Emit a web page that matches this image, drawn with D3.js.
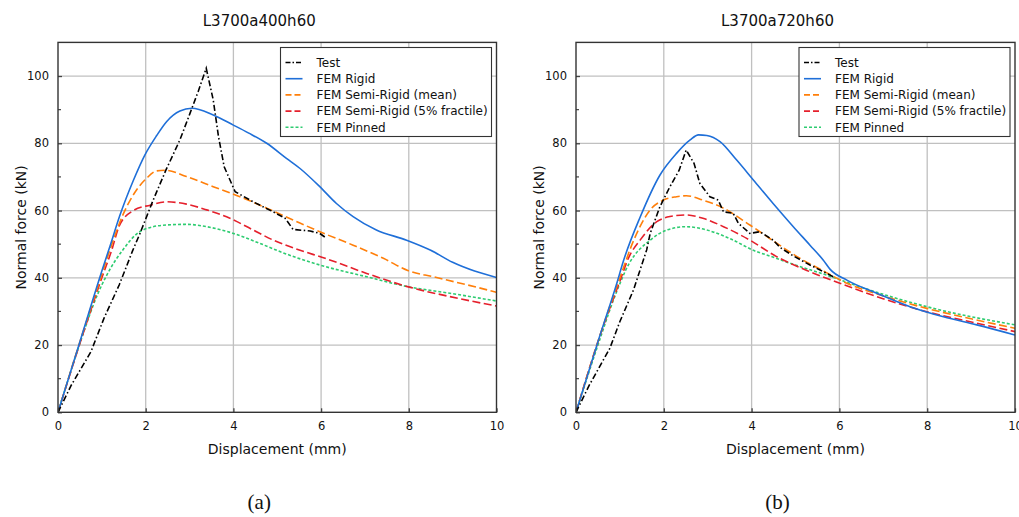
<!DOCTYPE html>
<html>
<head>
<meta charset="utf-8">
<script src="https://cdn.jsdelivr.net/npm/d3@7"></script>
<style>
  body { margin: 0; background: #fff; }
  svg { display: block; font-family: "DejaVu Sans", sans-serif; }
</style>
</head>
<body>
<div id="chart"></div>
<script>
const SERIES_NAMES = ["Test", "FEM Rigid", "FEM Semi-Rigid (mean)", "FEM Semi-Rigid (5% fractile)", "FEM Pinned"];
const X_TICKS = [0, 2, 4, 6, 8, 10];
const Y_TICKS = [0, 20, 40, 60, 80, 100];
const Y_MINOR = [10, 30, 50, 70, 90];

// panel (a) L3700a400h60
const testA_d = [0, 0.3, 0.75, 1.05, 1.4, 1.7, 1.87, 2.17, 2.46, 2.78, 3.01, 3.2, 3.38, 3.54, 3.66, 3.79, 4.04, 4.45, 4.91, 5.18, 5.36, 5.75, 5.97, 6.13];
const testA_f = [0, 8, 18, 28, 38, 48, 53.2, 63.1, 72, 81, 88.9, 95.5, 102.3, 92.9, 82, 73, 65.6, 62.6, 59.6, 57.7, 54.4, 53.9, 53.2, 51.7];
const rigidA_d = [0, 0.5, 1.0, 1.2, 1.41, 1.72, 1.98, 2.25, 2.48, 2.78, 3.05, 3.54, 4.0, 4.34, 4.76, 5.21, 5.52, 5.97, 6.35, 6.73, 7.26, 7.95, 8.5, 9.0, 9.5, 10];
const rigidA_f = [0, 21, 42, 50, 58.5, 69, 76.5, 82.3, 86.5, 89.6, 90.4, 88.4, 85.4, 83.1, 80, 75.5, 72.5, 67.1, 62.1, 58.2, 54.2, 51.2, 48.2, 44.6, 42, 40.1];
const meanA_d = [0, 0.5, 1.0, 1.19, 1.49, 1.79, 2.02, 2.25, 2.44, 2.93, 3.54, 4.15, 4.76, 5.36, 5.97, 6.73, 7.42, 7.99, 8.56, 9.33, 10];
const meanA_f = [0, 21, 41, 48.5, 59, 66.1, 69.6, 71.8, 72, 70.1, 67.1, 64.1, 60.7, 57.2, 53.7, 49.7, 45.8, 42.1, 40.3, 37.9, 35.7];
const fracA_d = [0, 0.5, 1.0, 1.22, 1.4, 1.72, 2.1, 2.48, 2.93, 3.39, 3.92, 4.45, 4.91, 5.52, 6.09, 7.04, 7.99, 8.94, 10];
const fracA_f = [0, 20.5, 40, 48, 55.5, 60, 61.6, 62.6, 61.9, 60.2, 57.7, 54.2, 51.2, 48.2, 45.8, 41.3, 37.3, 34.4, 31.6];
const pinA_d = [0, 0.5, 0.9, 1.1, 1.3, 1.49, 1.79, 2.17, 2.48, 2.93, 3.39, 4.0, 4.61, 5.06, 5.97, 7.04, 8.0, 8.94, 10];
const pinA_f = [0, 20.5, 35, 40.5, 45, 48.5, 53, 55.2, 55.7, 55.9, 55.2, 53.2, 50.2, 47.8, 43.8, 40.3, 37.3, 35.4, 33.1];

// panel (b) L3700a720h60
const testB_d = [0, 0.3, 0.77, 1.0, 1.31, 1.61, 1.69, 1.91, 2.14, 2.35, 2.51, 2.69, 2.82, 3.05, 3.24, 3.36, 3.58, 3.7, 3.96, 4.19, 4.49, 4.65, 4.95, 5.33, 5.79, 5.9];
const testB_f = [0, 8, 19, 27, 36.4, 48.3, 53.2, 61.1, 67.1, 72, 78, 74, 68.1, 64.1, 63.1, 59.6, 59.2, 56.2, 53.2, 53.7, 51.2, 49, 46.5, 43.8, 40.8, 40];
const rigidB_d = [0, 0.5, 0.93, 1.08, 1.46, 1.91, 2.29, 2.6, 2.79, 2.98, 3.28, 3.66, 4.04, 4.49, 4.95, 5.33, 5.63, 5.79, 6.17, 6.85, 7.61, 8.37, 9.13, 10];
const rigidB_f = [0, 21, 38.4, 45, 58, 70.5, 77, 81, 82.5, 82.3, 80.5, 75, 69.1, 62.1, 55.2, 49.7, 45.3, 42.5, 39.3, 35.4, 31.4, 28.4, 26, 23];
const meanB_d = [0, 0.5, 1.0, 1.31, 1.69, 1.99, 2.29, 2.51, 2.89, 3.36, 3.96, 4.57, 5.1, 5.5, 6.17, 7.0, 7.99, 9.0, 10];
const meanB_f = [0, 21, 40, 51, 60.2, 63.1, 64.1, 64.4, 63.1, 60.7, 55.7, 50.3, 45.8, 43, 38.4, 34.6, 30.9, 27.8, 25];
const fracB_d = [0, 0.5, 1.0, 1.2, 1.46, 1.84, 2.14, 2.51, 2.89, 3.36, 3.96, 4.57, 5.33, 6.01, 6.85, 7.99, 9.13, 10];
const fracB_f = [0, 21, 39, 46, 51.2, 56.7, 58.2, 58.7, 57.7, 55.2, 51.2, 46.3, 41.8, 38.4, 34.4, 29.9, 26.5, 24];
const pinB_d = [0, 0.5, 0.9, 1.2, 1.69, 2.07, 2.51, 2.98, 3.5, 4.11, 4.34, 4.95, 5.71, 6.47, 7.99, 10];
const pinB_f = [0, 20, 35, 44, 51.2, 54.2, 55.2, 54.2, 51.7, 47.8, 46.8, 44, 40.8, 37.3, 31.4, 26];

const STYLES = [
  { color: "#000000", dash: "6,2.5,1.5,2.5", curve: d3.curveLinear },
  { color: "#1f6fd8", dash: null, curve: d3.curveMonotoneX },
  { color: "#ff7f0a", dash: "8,3.5", curve: d3.curveMonotoneX },
  { color: "#e5202c", dash: "8,3.5", curve: d3.curveMonotoneX },
  { color: "#2ecc71", dash: "3,2", curve: d3.curveMonotoneX },
];

const zip = (xs, ys) => xs.map((d, i) => ({ d, f: ys[i] }));

const panels = [
  {
    title: "L3700a400h60", caption: "(a)", key: "a", left: 58, right: 496.5,
    series: [zip(testA_d, testA_f), zip(rigidA_d, rigidA_f), zip(meanA_d, meanA_f), zip(fracA_d, fracA_f), zip(pinA_d, pinA_f)],
  },
  {
    title: "L3700a720h60", caption: "(b)", key: "b", left: 576, right: 1015,
    series: [zip(testB_d, testB_f), zip(rigidB_d, rigidB_f), zip(meanB_d, meanB_f), zip(fracB_d, fracB_f), zip(pinB_d, pinB_f)],
  },
];

const width = 1019;
const height = 517;
const plotTop = 42.4;
const plotBottom = 412.3;

const svg = d3.select("#chart").append("svg").attr("width", width).attr("height", height);

function drawPanel(p) {
  const x = d3.scaleLinear().domain([0, 10]).range([p.left, p.right]);
  const y = d3.scaleLinear().domain([0, 110]).range([plotBottom, plotTop]);
  const g = svg.append("g");
  const cx = (p.left + p.right) / 2;

  g.append("defs").append("clipPath").attr("id", "clip" + p.key)
    .append("rect").attr("x", p.left).attr("y", plotTop).attr("width", p.right - p.left).attr("height", plotBottom - plotTop);

  // grid
  const grid = g.append("g").attr("stroke", "#c0c0c0").attr("stroke-width", 1.3);
  grid.selectAll("line.v").data(X_TICKS.slice(1, -1)).join("line").attr("class", "v")
    .attr("x1", x).attr("x2", x).attr("y1", plotTop).attr("y2", plotBottom);
  grid.selectAll("line.h").data(Y_TICKS.slice(1)).join("line").attr("class", "h")
    .attr("x1", p.left).attr("x2", p.right).attr("y1", y).attr("y2", y);

  // curves
  const line = d3.line().x((d) => x(d.d)).y((d) => y(d.f));
  g.append("g").attr("clip-path", `url(#clip${p.key})`)
    .selectAll("path").data(p.series.map((s, i) => ({ s, i })).reverse()).join("path")
    .attr("fill", "none")
    .attr("stroke", (d) => STYLES[d.i].color)
    .attr("stroke-width", 1.6)
    .attr("stroke-dasharray", (d) => STYLES[d.i].dash)
    .attr("d", (d) => line.curve(STYLES[d.i].curve)(d.s));

  // axes (inward ticks)
  const yAxis = d3.axisLeft(y).tickValues(Y_TICKS).tickSize(-4).tickPadding(9).tickFormat(d3.format("d"));
  const xAxis = d3.axisBottom(x).tickValues(X_TICKS).tickSize(-4).tickPadding(10).tickFormat(d3.format("d"));
  const ya = g.append("g").attr("transform", `translate(${p.left},0)`).call(yAxis);
  const xa = g.append("g").attr("transform", `translate(0,${plotBottom})`).call(xAxis);
  for (const a of [ya, xa]) {
    a.select(".domain").remove();
    a.selectAll("line").attr("stroke", "#444").attr("stroke-width", 1.3);
    a.selectAll("text").attr("font-size", 11.5).attr("fill", "#111").attr("font-family", "DejaVu Sans");
  }
  g.append("g").selectAll("line").data(Y_MINOR).join("line")
    .attr("x1", p.left).attr("x2", p.left + 3).attr("y1", y).attr("y2", y)
    .attr("stroke", "#444").attr("stroke-width", 1.2);

  // frame
  g.append("rect").attr("x", p.left).attr("y", plotTop).attr("width", p.right - p.left).attr("height", plotBottom - plotTop)
    .attr("fill", "none").attr("stroke", "#333").attr("stroke-width", 1.4);

  // texts
  g.append("text").attr("x", cx - 18).attr("y", 26).attr("text-anchor", "middle")
    .attr("font-size", 15).attr("fill", "#111").text(p.title);
  g.append("text").attr("x", cx).attr("y", 454).attr("text-anchor", "middle")
    .attr("font-size", 14).attr("fill", "#111").text("Displacement (mm)");
  g.append("text").attr("transform", `translate(${p.left - 32},${(plotTop + plotBottom) / 2}) rotate(-90)`)
    .attr("text-anchor", "middle").attr("font-size", 14).attr("fill", "#111").text("Normal force (kN)");
  g.append("text").attr("x", cx - 18).attr("y", 509).attr("text-anchor", "middle")
    .attr("font-family", "Liberation Serif, serif").attr("font-size", 21).attr("fill", "#111").text(p.caption);

  // legend
  const lx = p.right - 216;
  const legend = g.append("g").attr("transform", `translate(${lx},47.5)`);
  legend.append("rect").attr("width", 211).attr("height", 89)
    .attr("fill", "#fff").attr("stroke", "#333").attr("stroke-width", 1.1);
  const rows = legend.selectAll("g.row").data(SERIES_NAMES).join("g").attr("class", "row")
    .attr("transform", (d, i) => `translate(0,${15 + i * 16.2})`);
  rows.append("line").attr("x1", 5).attr("x2", 22)
    .attr("stroke", (d, i) => STYLES[i].color).attr("stroke-width", 1.6)
    .attr("stroke-dasharray", (d, i) => (i === 0 ? "5,2,1.5,2" : i === 2 || i === 3 ? "6,3" : STYLES[i].dash));
  rows.append("text").attr("x", 36).attr("dy", "0.35em").attr("font-size", 12).attr("fill", "#111").text((d) => d);
}

panels.forEach(drawPanel);
</script>
</body>
</html>
